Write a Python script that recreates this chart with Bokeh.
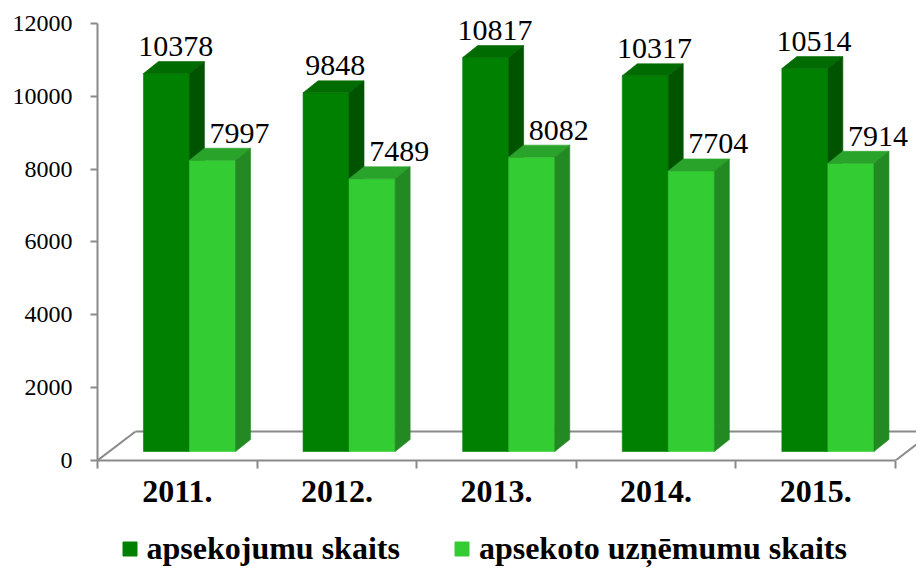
from bokeh.plotting import figure
from bokeh.layouts import column
from bokeh.models import Range1d, FixedTicker, Legend, LegendItem, ColumnDataSource
from bokeh.embed import file_html
from bokeh.resources import INLINE
from bokeh.core.properties import value

# ---- data ----
years = ["2011.", "2012.", "2013.", "2014.", "2015."]
surveys = [10378, 9848, 10817, 10317, 10514]      # apsekojumu skaits
companies = [7997, 7489, 8082, 7704, 7914]        # apsekoto uzņēmumu skaits
y_ticks = [0, 2000, 4000, 6000, 8000, 10000, 12000]
series_names = ["apsekojumu skaits", "apsekoto uzņēmumu skaits"]

# ---- style / geometry ----
KX = 159.6        # px per category band
KY = 0.03642      # px per value unit
BASE = 9 / KY     # bars stand in the middle of the 3-D floor
DDX = 15 / KX     # bar depth (x)
DDY = 12 / KY     # bar depth (y)
FDX = 38 / KX     # floor depth (x)
FDY = 29 / KY     # floor depth (y)
AXIS_COLOR = "#8a8a8a"
FONT = "Liberation Serif"
DARK = ("#008000", "#006b00", "#005400")
LIGHT = ("#33cc33", "#2aa32a", "#238a23")

W = 916
H_CHART, H_LEG = 520, 47
FRAME_LEFT, FRAME_BOTTOM = 97, 60
p = figure(width=W, height=H_CHART,
           x_range=Range1d(-0.5, -0.5 + (W - FRAME_LEFT) / KX),
           y_range=Range1d(0, (H_CHART - FRAME_BOTTOM) / KY),
           output_backend="svg", toolbar_location=None,
           min_border_left=FRAME_LEFT, min_border_right=0,
           min_border_top=0, min_border_bottom=FRAME_BOTTOM)
p.outline_line_color = None
p.xgrid.visible = False
p.ygrid.visible = False

n = len(years)
idx = list(range(n))

# ---- floor ----
x_lo, x_hi = -0.5, n - 0.5
p.segment(x0=[x_lo, x_lo + FDX, x_hi], y0=[0, FDY, 0],
          x1=[x_lo + FDX, x_hi + 3 * FDX, x_hi + FDX], y1=[FDY, FDY, FDY],
          line_color=AXIS_COLOR, line_width=2)

# ---- 3-D bars ----
def bar3d(values, off0, off1, colors):
    c_front, c_top, c_side = colors
    left = [i - 0.5 + off0 for i in idx]
    right = [i - 0.5 + off1 for i in idx]
    top = [BASE + v for v in values]
    src = ColumnDataSource(dict(left=left, right=right, bottom=[BASE] * n, top=top))
    p.quad(left="left", right="right", bottom="bottom", top="top", source=src,
           fill_color=c_front, line_color=c_front, line_width=0.6)
    p.patches(xs=[[l, rr, rr + DDX, l + DDX] for l, rr in zip(left, right)],
              ys=[[t, t, t + DDY, t + DDY] for t in top],
              fill_color=c_top, line_color=c_top, line_width=0.6)
    p.patches(xs=[[rr, rr + DDX, rr + DDX, rr] for rr in right],
              ys=[[BASE, BASE + DDY, t + DDY, t] for t in top],
              fill_color=c_side, line_color=c_side, line_width=0.6)

bar3d(surveys, 0.288, 0.576, DARK)
bar3d(companies, 0.576, 0.865, LIGHT)

# ---- value labels ----
LBL = 15 / KY
p.text(x=[i - 0.5 + 0.49 for i in idx], y=[BASE + v + DDY + LBL for v in surveys],
       text=[str(v) for v in surveys], text_font=value(FONT), text_font_size="30px",
       text_align="center", text_baseline="alphabetic", text_color="black")
p.text(x=[i - 0.5 + 0.89 for i in idx], y=[BASE + v + DDY + LBL for v in companies],
       text=[str(v) for v in companies], text_font=value(FONT), text_font_size="30px",
       text_align="center", text_baseline="alphabetic", text_color="black")

# ---- axes ----
ya = p.yaxis[0]
ya.ticker = FixedTicker(ticks=y_ticks)
ya.bounds = (0, 12000)
ya.axis_line_color = AXIS_COLOR
ya.axis_line_width = 2
ya.major_tick_line_color = AXIS_COLOR
ya.major_tick_line_width = 2
ya.major_tick_out = 7
ya.major_tick_in = 0
ya.minor_tick_line_color = None
ya.major_label_standoff = 18
ya.major_label_text_font = FONT
ya.major_label_text_font_size = "24px"
ya.major_label_text_color = "black"

xa = p.xaxis[0]
xa.ticker = FixedTicker(ticks=idx, minor_ticks=[i - 0.5 for i in range(n + 1)])
xa.major_label_overrides = {i: y for i, y in zip(idx, years)}
xa.bounds = (x_lo, x_hi)
xa.axis_line_color = AXIS_COLOR
xa.axis_line_width = 2
xa.major_tick_line_color = None
xa.major_tick_out = 0
xa.major_tick_in = 0
xa.minor_tick_line_color = AXIS_COLOR
xa.minor_tick_line_width = 2
xa.minor_tick_out = 8
xa.minor_tick_in = 0
xa.major_label_standoff = 12
xa.major_label_text_font = FONT
xa.major_label_text_font_style = "bold"
xa.major_label_text_font_size = "32px"
xa.major_label_text_color = "black"

# ---- legend strip (frame is aligned with the chart's frame in the column) ----
pl = figure(width=W, height=H_LEG, x_range=Range1d(0, 1), y_range=Range1d(0, 1),
            output_backend="svg", toolbar_location=None,
            x_axis_type=None, y_axis_type=None,
            min_border_left=0, min_border_right=0, min_border_top=0, min_border_bottom=0)
pl.outline_line_color = None
pl.xgrid.visible = False
pl.ygrid.visible = False
# legend proxies, placed outside the visible range
rd = pl.scatter(x=[-5], y=[-5], marker="square", size=14,
                fill_color=DARK[0], line_color=DARK[0])
rl = pl.scatter(x=[-5], y=[-5], marker="square", size=14,
                fill_color=LIGHT[0], line_color=LIGHT[0])
legend = Legend(items=[LegendItem(label=series_names[0], renderers=[rd]),
                       LegendItem(label=series_names[1], renderers=[rl])],
                orientation="horizontal", location=(14.5, 0),
                glyph_width=35, glyph_height=35, label_standoff=0, spacing=44,
                padding=0, margin=0, border_line_color=None, background_fill_alpha=0,
                label_text_font=FONT, label_text_font_style="bold",
                label_text_font_size="32px", label_text_color="black")
pl.add_layout(legend, "center")

layout = column(p, pl, spacing=0)
open("out.html", "w").write(file_html(layout, INLINE))
